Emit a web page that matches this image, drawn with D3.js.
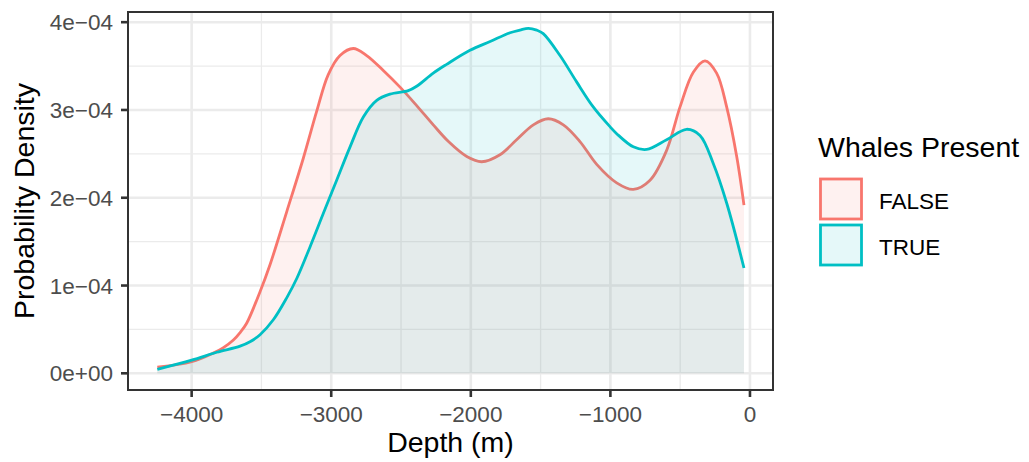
<!DOCTYPE html>
<html><head><meta charset="utf-8">
<script src="https://cdn.jsdelivr.net/npm/d3@7"></script>
<style>body{margin:0;background:#fff} text{font-family:"Liberation Sans",Arial,sans-serif}</style>
</head><body><svg id="c" width="1029" height="462"></svg>
<script>
// ---- data (density in units of 1e-4) ----
const depthFalse = [-4246,-4000,-3845,-3775,-3701,-3650,-3606,-3510,-3438,-3319,-3200,-3105,-3022,-2937,-2842,-2746,-2627,-2507,-2388,-2269,-2160,-2029,-1922,-1791,-1672,-1552,-1445,-1337,-1218,-1098,-955,-836,-716,-597,-501,-406,-322,-239,-167,-95,-43];
const densFalse  = [0.07,0.132,0.23,0.29,0.38,0.47,0.57,0.93,1.24,1.84,2.45,2.98,3.40,3.62,3.70,3.62,3.45,3.26,3.05,2.83,2.64,2.47,2.41,2.49,2.66,2.83,2.90,2.83,2.64,2.38,2.17,2.095,2.20,2.54,3.035,3.43,3.56,3.42,3.035,2.47,1.916];
const depthTrue  = [-4246,-4000,-3820,-3653,-3582,-3510,-3415,-3319,-3247,-3152,-3057,-2961,-2865,-2770,-2674,-2579,-2448,-2388,-2269,-2173,-2006,-1862,-1719,-1648,-1588,-1528,-1481,-1361,-1242,-1123,-1003,-955,-836,-740,-597,-454,-358,-263,-167,-43];
const densTrue   = [0.046,0.15,0.24,0.31,0.36,0.44,0.61,0.86,1.08,1.44,1.82,2.20,2.58,2.92,3.11,3.18,3.22,3.27,3.42,3.52,3.68,3.78,3.88,3.91,3.93,3.91,3.87,3.62,3.32,3.035,2.81,2.73,2.58,2.55,2.66,2.78,2.71,2.39,1.94,1.20];
const groups = ["FALSE","TRUE"];
const groupColors = ["#F8766D","#00BFC4"];
const xTicks = [-4000,-3000,-2000,-1000,0];
const xMinor = [-3500,-2500,-1500,-500];
const yTicks = [0,1e-4,2e-4,3e-4,4e-4];
const yTickLabels = ["0e+00","1e\u221204","2e\u221204","3e\u221204","4e\u221204"];
const yMinor = [0.5e-4,1.5e-4,2.5e-4,3.5e-4];

const svg = d3.select("#c");
const L=128, R=773, T=12, B=390;
const x = d3.scaleLinear().domain([-4456,165]).range([L,R]);
const y = d3.scaleLinear().domain([-0.19e-4,4.116e-4]).range([B,T]);

const g = svg.append("g");
g.append("rect").attr("x",L).attr("y",T).attr("width",R-L).attr("height",B-T).attr("fill","#fff");
svg.append("clipPath").attr("id","cp").append("rect").attr("x",L).attr("y",T).attr("width",R-L).attr("height",B-T);
// grid
g.selectAll(".gxm").data(xMinor).join("line").attr("x1",d=>x(d)).attr("x2",d=>x(d)).attr("y1",T).attr("y2",B).attr("stroke","#EBEBEB").attr("stroke-width",1.3);
g.selectAll(".gym").data(yMinor).join("line").attr("y1",d=>y(d)).attr("y2",d=>y(d)).attr("x1",L).attr("x2",R).attr("stroke","#EBEBEB").attr("stroke-width",1.3);
g.selectAll(".gx").data(xTicks).join("line").attr("x1",d=>x(d)).attr("x2",d=>x(d)).attr("y1",T).attr("y2",B).attr("stroke","#EBEBEB").attr("stroke-width",2.6);
g.selectAll(".gy").data(yTicks).join("line").attr("y1",d=>y(d)).attr("y2",d=>y(d)).attr("x1",L).attr("x2",R).attr("stroke","#EBEBEB").attr("stroke-width",2.6);

const series = [
  {name:groups[0], d:depthFalse.map((v,i)=>[v,densFalse[i]*1e-4]), c:groupColors[0]},
  {name:groups[1], d:depthTrue.map((v,i)=>[v,densTrue[i]*1e-4]),  c:groupColors[1]}
];
const curve = d3.curveCatmullRom.alpha(0.5);
const area = d3.area().x(d=>x(d[0])).y0(y(0)).y1(d=>y(d[1])).curve(curve);
const line = d3.line().x(d=>x(d[0])).y(d=>y(d[1])).curve(curve);
const pg = g.append("g").attr("clip-path","url(#cp)");
series.forEach(s=>{
  pg.append("path").attr("d",area(s.d)).attr("fill",s.c).attr("fill-opacity",0.1);
  pg.append("path").attr("d",line(s.d)).attr("fill","none").attr("stroke",s.c).attr("stroke-width",2.8).attr("stroke-linejoin","round");
});
// border
g.append("rect").attr("x",L).attr("y",T).attr("width",R-L).attr("height",B-T).attr("fill","none").attr("stroke","#333333").attr("stroke-width",2);

// axes ticks
g.selectAll(".tx").data(xTicks).join("line").attr("x1",d=>x(d)).attr("x2",d=>x(d)).attr("y1",B).attr("y2",B+7).attr("stroke","#333333").attr("stroke-width",2.6);
g.selectAll(".ty").data(yTicks).join("line").attr("y1",d=>y(d)).attr("y2",d=>y(d)).attr("x1",L-7).attr("x2",L).attr("stroke","#333333").attr("stroke-width",2.6);
g.selectAll(".lx").data(xTicks).join("text").attr("x",d=>x(d)).attr("y",421.5).attr("text-anchor","middle").attr("fill","#4D4D4D").attr("font-size",22.5).text(d=>d===0?"0":"\u2212"+Math.abs(d));
g.selectAll(".ly").data(yTicks).join("text").attr("x",113).attr("y",d=>y(d)+8).attr("text-anchor","end").attr("fill","#4D4D4D").attr("font-size",22.5).text((d,i)=>yTickLabels[i]);

// axis titles
svg.append("text").attr("x",(L+R)/2).attr("y",452).attr("text-anchor","middle").attr("font-size",28.5).attr("fill","#000").text("Depth (m)");
svg.append("text").attr("transform",`translate(33.5,${(T+B)/2}) rotate(-90)`).attr("text-anchor","middle").attr("font-size",28.5).attr("fill","#000").text("Probability Density");

// legend
svg.append("text").attr("x",818).attr("y",157).attr("font-size",28.5).attr("fill","#000").text("Whales Present");
const lg = svg.append("g");
series.forEach((s,i)=>{
  const y0 = 179 + i*46;
  lg.append("rect").attr("x",820.5).attr("y",y0).attr("width",41).attr("height",40).attr("fill","#fff");
  lg.append("rect").attr("x",820.5).attr("y",y0).attr("width",41).attr("height",40).attr("fill",s.c).attr("fill-opacity",0.1).attr("stroke",s.c).attr("stroke-width",2.8);
  lg.append("text").attr("x",879).attr("y",y0+29.5).attr("font-size",22.5).attr("fill","#000").text(s.name);
});
</script></body></html>
